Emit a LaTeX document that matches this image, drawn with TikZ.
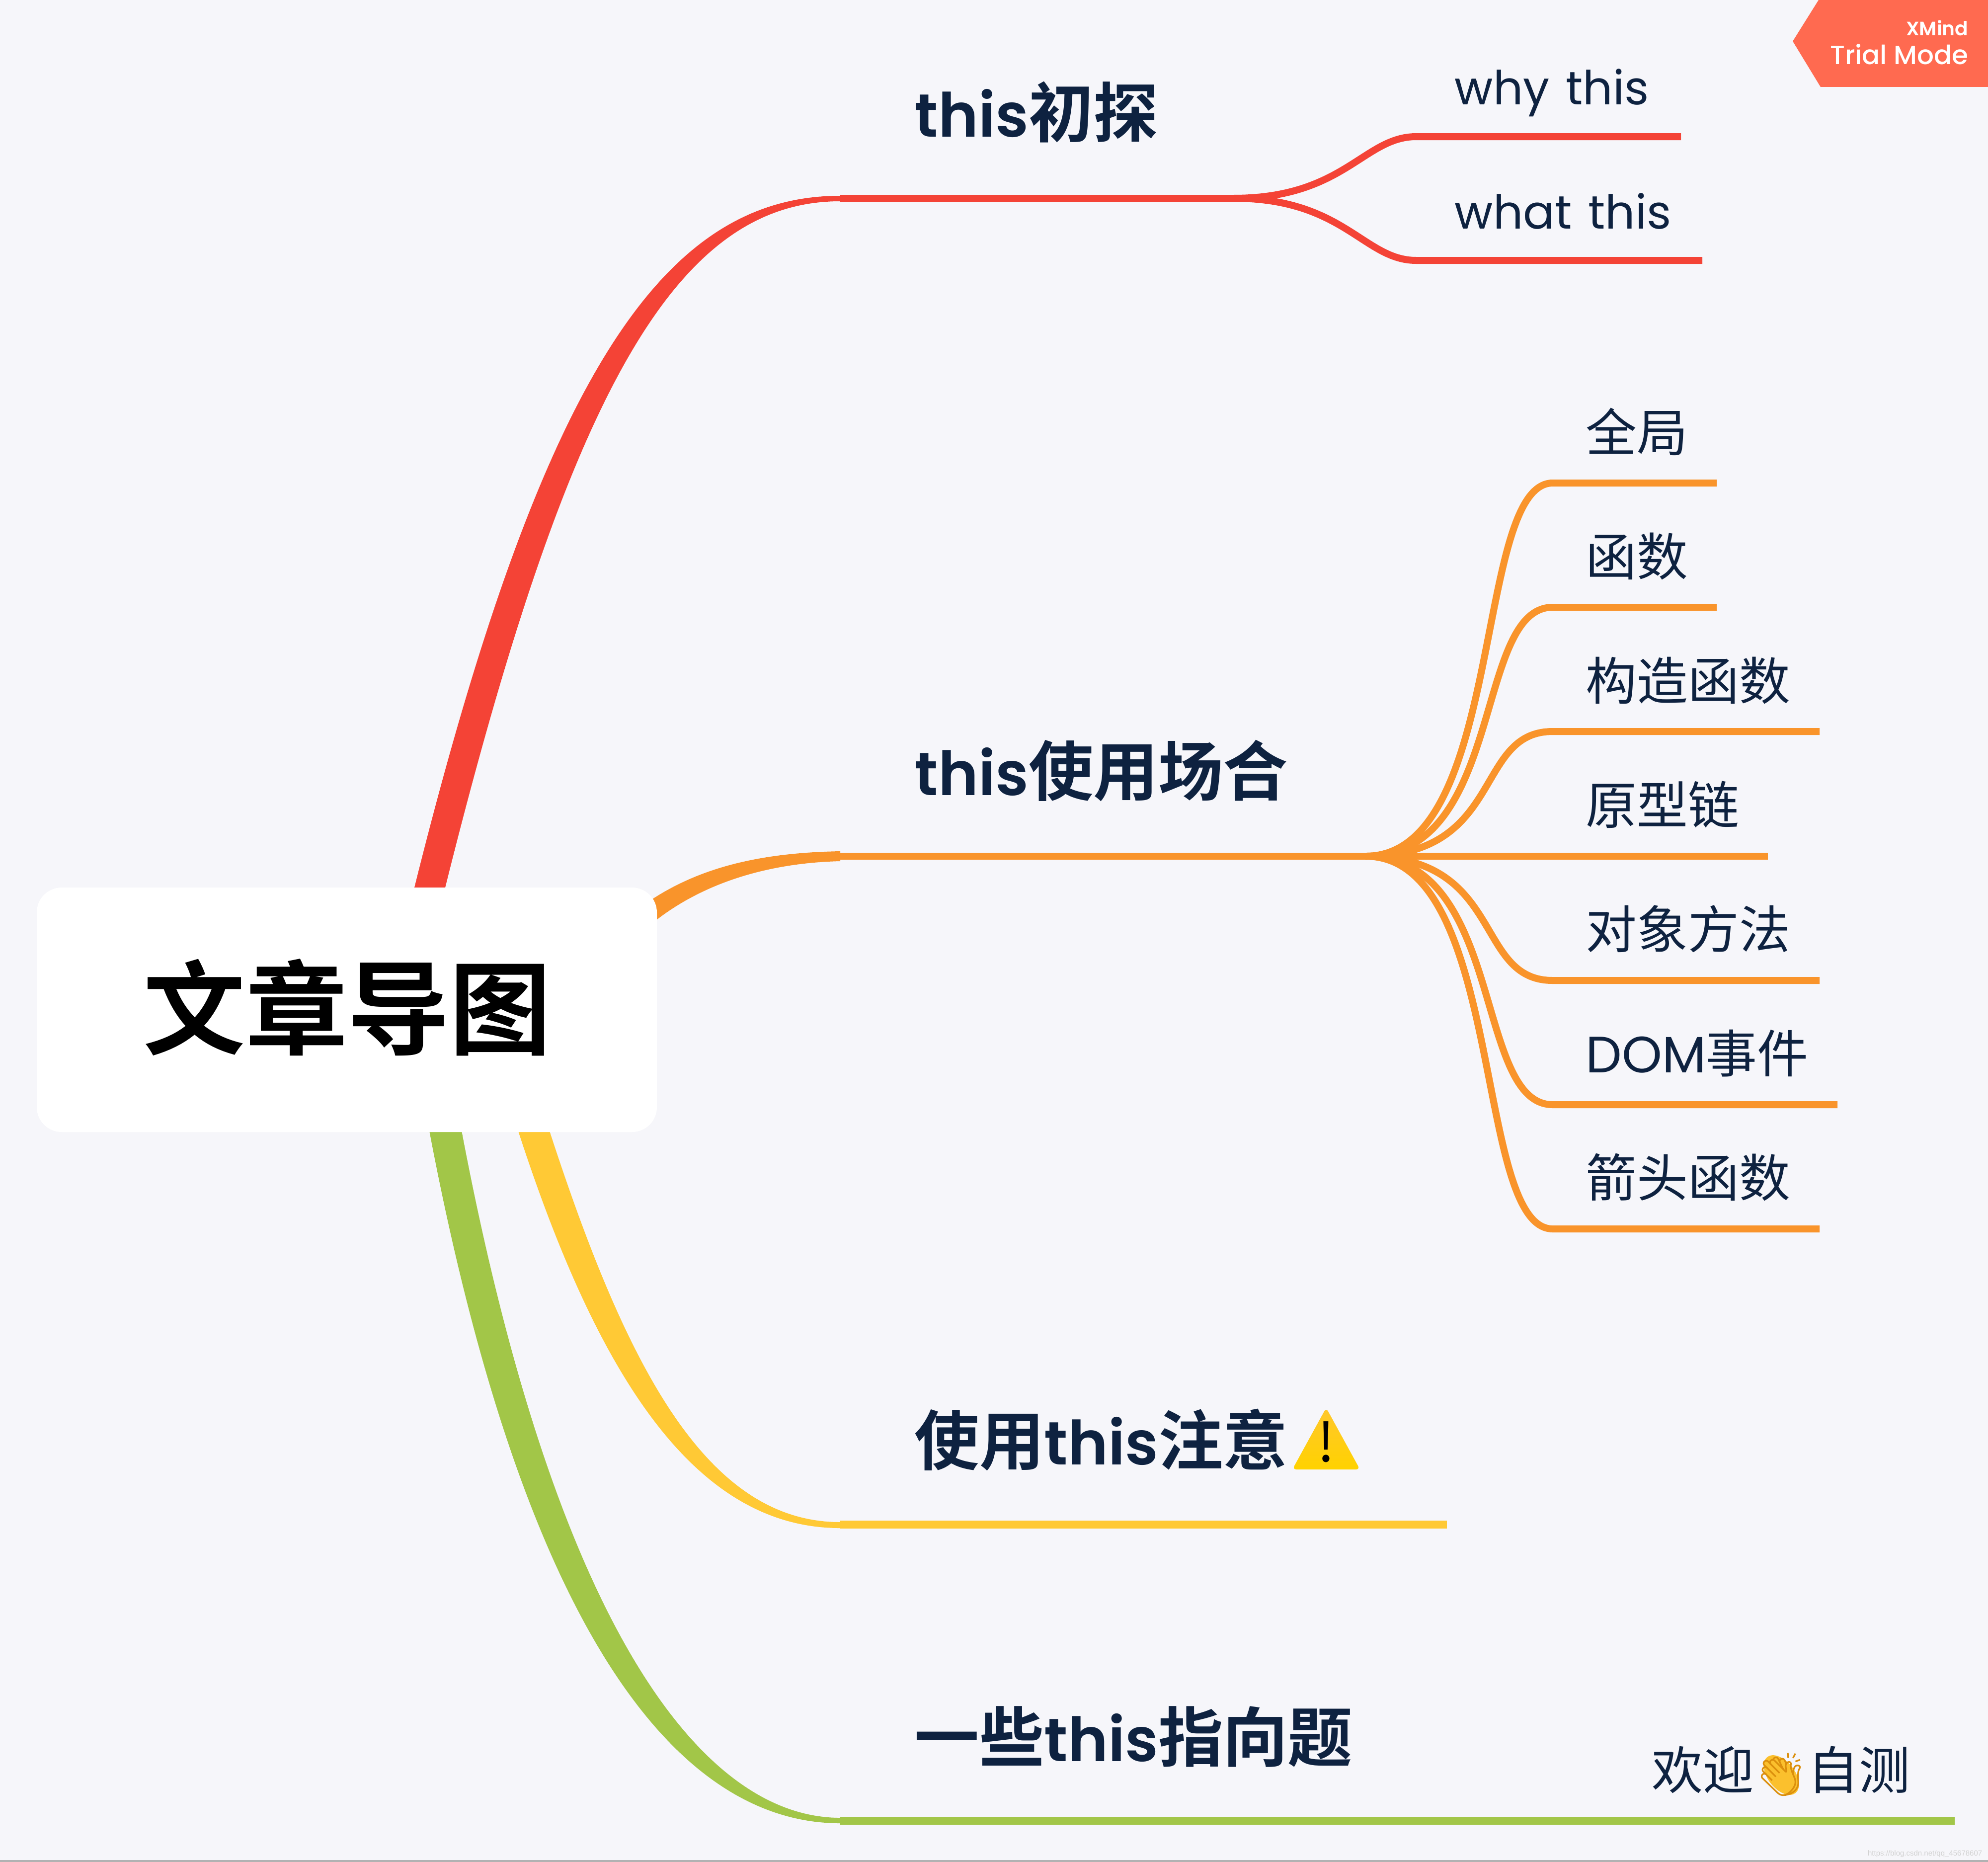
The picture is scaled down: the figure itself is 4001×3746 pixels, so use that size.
\documentclass[tikz,border=0pt]{standalone}
\usepackage{fontspec}
\usetikzlibrary{shadings}
\setmainfont{Poppins}
\newfontfamily\cjkreg{Noto Sans CJK SC}
\newfontfamily\cjkbold{Noto Sans CJK SC Bold}
\newfontfamily\latbold[Scale=0.94]{Poppins SemiBold}
\newfontfamily\latmed[Scale=0.97]{Poppins Medium}
\newfontfamily\latreg{Poppins}
\newfontfamily\latsmall[Scale=0.925,WordSpace=1.3]{Poppins}
\newfontfamily\emojifont{Noto Emoji}
\newfontfamily\markfont{Liberation Sans}
\definecolor{bgc}{HTML}{F6F6FA}
\definecolor{redc}{HTML}{F44336}
\definecolor{orangec}{HTML}{F9942B}
\definecolor{yellowc}{HTML}{FFC935}
\definecolor{greenc}{HTML}{A2C648}
\definecolor{bannerc}{HTML}{FF6A50}
\definecolor{inkc}{HTML}{0E2240}
\definecolor{handc}{HTML}{FBC02D}
\definecolor{handline}{HTML}{DB8F0C}
\definecolor{warntop}{HTML}{FFC72C}
\definecolor{warnbot}{HTML}{FFD200}
\tikzset{
  x=0.25pt,y=-0.25pt,
  mainlabel/.style={anchor=base west,inner sep=0pt,text=inkc,font=\fontsize{32.6}{32.6}\selectfont\latbold},
  sublabel/.style={anchor=base west,inner sep=0pt,text=inkc,font=\fontsize{25.7}{25.7}\selectfont\latreg},
  stem/.style={line width=3.6pt,line cap=butt},
  heavystem/.style={line width=3.8pt,line cap=butt},
  twig/.style={line width=3.5pt,line cap=butt},
}
\newcommand{\zh}[1]{{\cjkreg #1}}
\newcommand{\zb}[1]{{\cjkbold #1}}
\begin{document}
\begin{tikzpicture}
\useasboundingbox (0,0) rectangle (4001,3746);
\fill[bgc] (0,0) rectangle (4001,3746);
\draw[black!60,line width=0.5pt] (0,3745) -- (4001,3745);

% ribbons
\fill[redc] (833,1790) .. controls (1088,766) and (1330,394) .. (1691,394)
  -- (1691,405) .. controls (1361,405) and (1145,786) .. (895,1790) -- cycle;
\fill[orangec] (1290,1825) .. controls (1400,1745) and (1530,1716) .. (1691,1713)
  -- (1691,1733) .. controls (1560,1736) and (1420,1770) .. (1310,1860) -- cycle;
\fill[yellowc] (1041,2270) .. controls (1198,2755) and (1392,3075) .. (1691,3075)
  -- (1691,3063) .. controls (1417,3063) and (1256,2738) .. (1104,2270) -- cycle;
\fill[greenc] (863,2270) .. controls (1061,3319) and (1379,3669) .. (1691,3669)
  -- (1691,3658) .. controls (1415,3658) and (1118,3279) .. (928,2270) -- cycle;

% root
\node[fill=white,rounded corners=12.5pt,minimum width=312pt,minimum height=123pt,inner sep=0pt] (root) at (698,2032) {};
\node[anchor=base west,inner sep=0pt,text=black,font=\fontsize{51.3}{51.3}\selectfont\cjkbold] (rootlabel) at (288,2106) {文章导图};

% junction coordinates
\coordinate (rEnd) at (1691,399);
\coordinate (rFork) at (2483,399);
\coordinate (rA) at (2850,275);
\coordinate (rAe) at (3383,275);
\coordinate (rB) at (2850,524);
\coordinate (rBe) at (3426,524);
\coordinate (oEnd) at (1691,1723);
\coordinate (oFork) at (2748,1723);
\coordinate (yEnd) at (1691,3068);
\coordinate (yLast) at (2912,3068);
\coordinate (gEnd) at (1691,3664);
\coordinate (gLast) at (3934,3664);

\draw[stem,redc] (rEnd) -- (rFork);
\draw[twig,redc] (rFork) .. controls (2705,399) and (2745,275) .. (rA) -- (rAe);
\draw[twig,redc] (rFork) .. controls (2705,399) and (2745,524) .. (rB) -- (rBe);
\draw[heavystem,yellowc] (yEnd) -- (yLast);
\draw[heavystem,greenc] (gEnd) -- (gLast);
\draw[twig,orangec] (oEnd) -- (oFork);

\foreach \nm/\yy/\xe in {a/972/3455,b/1222/3455,c/1472/3662,e/1973/3662,f/2223/3698,g/2473/3662}{
  \coordinate (o\nm) at (3125,\yy);
  \coordinate (o\nm e) at (\xe,\yy);
  \draw[twig,orangec] (oFork) .. controls (3030,1723) and (2965,\yy) .. (o\nm) -- (o\nm e);
}
\coordinate (ode) at (3558,1723);
\draw[twig,orangec] (oFork) -- (ode);

% main labels
\node[mainlabel] (t1) at (1840,276) {this\zb{初探}};
\node[mainlabel] (t2) at (1840,1600) {this\zb{使用场合}};
\node[mainlabel] (t3) at (1840,2947) {\zb{使用}this\zb{注意}};
\node[mainlabel] (t4) at (1840,3544) {\zb{一些}this\zb{指向题}};

% warning icon
\shade[top color=warntop,bottom color=warnbot,rounded corners=2pt] (2669,2833) -- (2737,2957) -- (2601,2957) -- cycle;
\node[inner sep=0pt,text=black,font=\fontsize{27}{27}\selectfont\cjkreg] (warnmark) at (2669,2902) {!};

% hands under the clap glyph
\fill[handc,rotate around={-52:(3585,3572)}] (3585,3572) ellipse (46 and 27);

% sub labels
\node[sublabel,font=\fontsize{25.5}{25.5}\selectfont\latsmall] (s1) at (2927,210) {why this};
\node[sublabel,font=\fontsize{25.5}{25.5}\selectfont\latsmall] (s2) at (2927,460) {what this};
\node[sublabel] (n1) at (3191,908) {\zh{全局}};
\node[sublabel] (n2) at (3191,1158) {\zh{函数}};
\node[sublabel] (n3) at (3191,1408) {\zh{构造函数}};
\node[sublabel] (n4) at (3191,1658) {\zh{原型链}};
\node[sublabel] (n5) at (3191,1908) {\zh{对象方法}};
\node[sublabel] (n6) at (3191,2158) {DOM\zh{事件}};
\node[sublabel] (n7) at (3191,2408) {\zh{箭头函数}};
\node[sublabel] (n8) at (3324,3600) {\zh{欢迎}{\fontsize{21.3}{21.3}\selectfont\textcolor{handline}{\emojifont 👏}}\zh{自测}};

% banner
\fill[bannerc] (3660,0) -- (3608,83) -- (3664,175) -- (4001,175) -- (4001,0) -- cycle;
\node[anchor=base east,inner sep=0pt,text=white,font=\fontsize{10.4}{10.4}\selectfont\latbold] (bn1) at (3962,72) {XMind};
\node[anchor=base east,inner sep=0pt,text=white,font=\fontsize{13.7}{13.7}\selectfont\latmed] (bn2) at (3962,130) {Trial Mode};

% watermark
\node[anchor=base east,inner sep=0pt,text=black!18,font=\fontsize{3.75}{3.75}\selectfont\markfont] (wm) at (3990,3734) {https://blog.csdn.net/qq\_45678607};
\end{tikzpicture}
\end{document}
